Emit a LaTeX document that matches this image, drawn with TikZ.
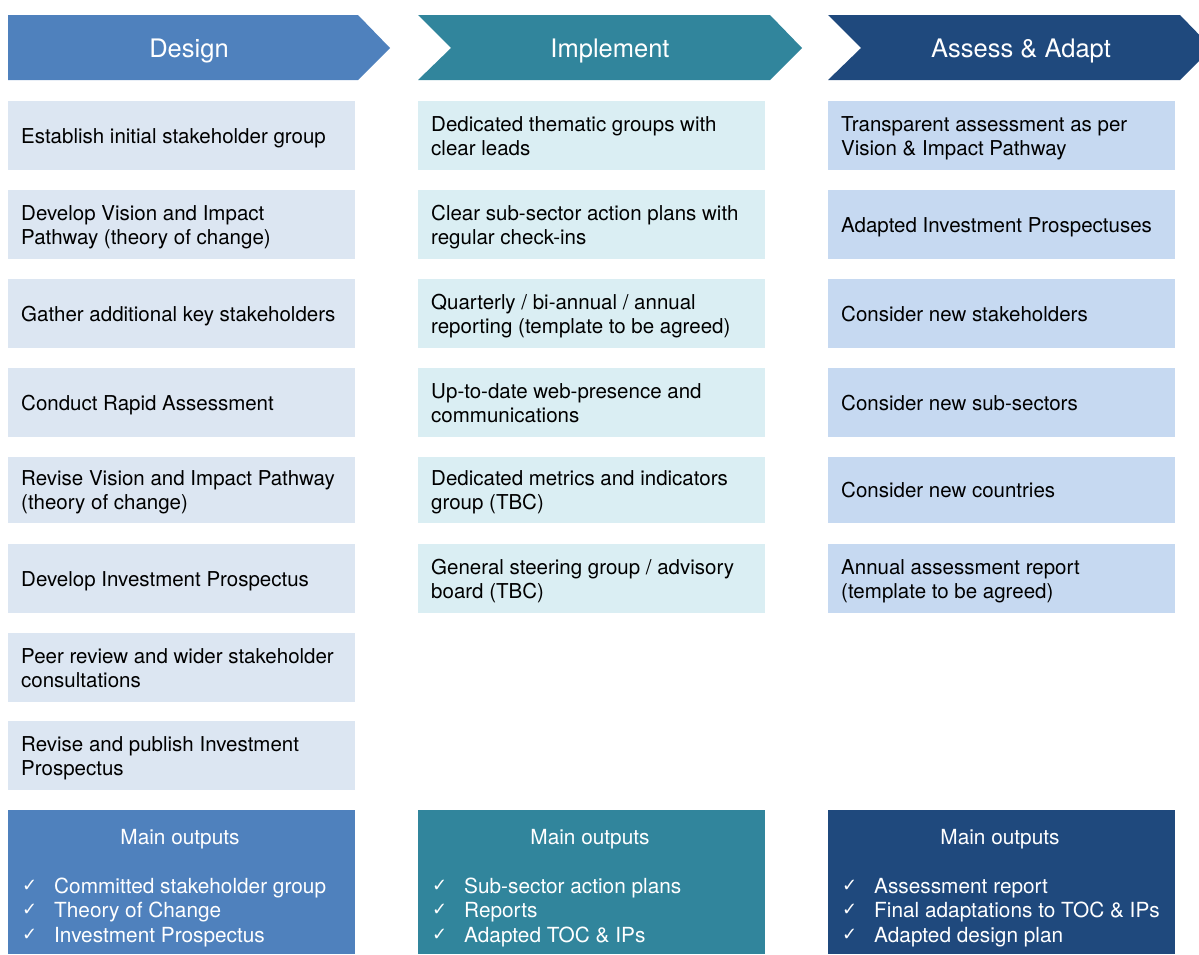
\documentclass[tikz,border=0pt]{standalone}
\usepackage{fontspec}
\setmainfont{TeX Gyre Heros}
\newfontfamily\symfont{DejaVu Sans}
\definecolor{dsg}{HTML}{4F81BD}
\definecolor{imp}{HTML}{31859C}
\definecolor{asa}{HTML}{1F497D}
\definecolor{dsglt}{HTML}{DCE6F2}
\definecolor{implt}{HTML}{DAEEF3}
\definecolor{asalt}{HTML}{C6D9F1}
\newcommand{\twolines}[2]{\parbox[t]{340pt}{\raggedright #1\\#2}}
\tikzset{
  stepbox/.style={anchor=north west, minimum width=347pt, inner sep=0pt},
  steptext/.style={anchor=base west, inner sep=0pt, text=black, font=\fontsize{20.5}{24}\selectfont},
  hdrtext/.style={anchor=base, inner sep=0pt, text=white, font=\fontsize{25.5}{30}\selectfont},
  outbox/.style={anchor=north west, minimum width=347pt, minimum height=144pt, inner sep=0pt},
  outtitle/.style={anchor=base, inner sep=0pt, text=white, font=\fontsize{20.8}{24}\selectfont},
  outitem/.style={anchor=base west, text=white, inner sep=0pt, font=\fontsize{20.8}{24}\selectfont},
  outcheck/.style={anchor=base west, text=white, inner sep=0pt, font=\symfont\fontsize{18}{20}\selectfont}
}
\begin{document}
\begin{tikzpicture}[x=1pt,y=-1pt]
\useasboundingbox (0,0) rectangle (1199,954);
\clip (0,0) rectangle (1199,954);
% headers
\fill[dsg] (8,15) -- (358,15) -- (390,48) -- (358,80) -- (8,80) -- cycle;
\fill[imp] (418,15) -- (770,15) -- (802,48) -- (770,80) -- (418,80) -- (451,48) -- cycle;
\fill[asa] (828,15) -- (1180,15) -- (1212,48) -- (1180,80) -- (828,80) -- (861,48) -- cycle;
\node[hdrtext] (hd) at (189,57) {Design};
\node[hdrtext] (hi) at (610,57) {Implement};
\node[hdrtext] (ha) at (1021,57) {Assess \& Adapt};
% boxes: Design
\node[stepbox, fill=dsglt, minimum height=69pt] (d1) at (8,101) {};
\node[stepbox, fill=dsglt, minimum height=69pt] (d2) at (8,190) {};
\node[stepbox, fill=dsglt, minimum height=69pt] (d3) at (8,279) {};
\node[stepbox, fill=dsglt, minimum height=69pt] (d4) at (8,368) {};
\node[stepbox, fill=dsglt, minimum height=66pt] (d5) at (8,457) {};
\node[stepbox, fill=dsglt, minimum height=69pt] (d6) at (8,544) {};
\node[stepbox, fill=dsglt, minimum height=69pt] (d7) at (8,633) {};
\node[stepbox, fill=dsglt, minimum height=69pt] (d8) at (8,721) {};
% boxes: Implement
\node[stepbox, fill=implt, minimum height=69pt] (i1) at (418,101) {};
\node[stepbox, fill=implt, minimum height=69pt] (i2) at (418,190) {};
\node[stepbox, fill=implt, minimum height=69pt] (i3) at (418,279) {};
\node[stepbox, fill=implt, minimum height=69pt] (i4) at (418,368) {};
\node[stepbox, fill=implt, minimum height=66pt] (i5) at (418,457) {};
\node[stepbox, fill=implt, minimum height=69pt] (i6) at (418,544) {};
% boxes: Assess
\node[stepbox, fill=asalt, minimum height=69pt] (a1) at (828,101) {};
\node[stepbox, fill=asalt, minimum height=69pt] (a2) at (828,190) {};
\node[stepbox, fill=asalt, minimum height=69pt] (a3) at (828,279) {};
\node[stepbox, fill=asalt, minimum height=69pt] (a4) at (828,368) {};
\node[stepbox, fill=asalt, minimum height=66pt] (a5) at (828,457) {};
\node[stepbox, fill=asalt, minimum height=69pt] (a6) at (828,544) {};
% texts: Design
\node[steptext] (d1t) at (21,143) {Establish initial stakeholder group};
\node[steptext] (d2t) at (21,220) {\twolines{Develop Vision and Impact}{Pathway (theory of change)}};
\node[steptext] (d3t) at (21,321) {Gather additional key stakeholders};
\node[steptext] (d4t) at (21,410) {Conduct Rapid Assessment};
\node[steptext] (d5t) at (21,485.5) {\twolines{Revise Vision and Impact Pathway}{(theory of change)}};
\node[steptext] (d6t) at (21,586) {Develop Investment Prospectus};
\node[steptext] (d7t) at (21,663) {\twolines{Peer review and wider stakeholder}{consultations}};
\node[steptext] (d8t) at (21,751) {\twolines{Revise and publish Investment}{Prospectus}};
% texts: Implement
\node[steptext] (i1t) at (431,131) {\twolines{Dedicated thematic groups with}{clear leads}};
\node[steptext] (i2t) at (431,220) {\twolines{Clear sub-sector action plans with}{regular check-ins}};
\node[steptext] (i3t) at (431,309) {\twolines{Quarterly / bi-annual / annual}{reporting (template to be agreed)}};
\node[steptext] (i4t) at (431,398) {\twolines{Up-to-date web-presence and}{communications}};
\node[steptext] (i5t) at (431,485.5) {\twolines{Dedicated metrics and indicators}{group (TBC)}};
\node[steptext] (i6t) at (431,574) {\twolines{General steering group / advisory}{board (TBC)}};
% texts: Assess
\node[steptext] (a1t) at (841,131) {\twolines{Transparent assessment as per}{Vision \& Impact Pathway}};
\node[steptext] (a2t) at (841,232) {Adapted Investment Prospectuses};
\node[steptext] (a3t) at (841,321) {Consider new stakeholders};
\node[steptext] (a4t) at (841,410) {Consider new sub-sectors};
\node[steptext] (a5t) at (841,497.5) {Consider new countries};
\node[steptext] (a6t) at (841,574) {\twolines{Annual assessment report}{(template to be agreed)}};
% Output boxes
\node[outbox, fill=dsg] (od) at (8,810) {};
\node[outbox, fill=imp] (oi) at (418,810) {};
\node[outbox, fill=asa] (oa) at (828,810) {};
\node[outtitle] (odt) at (180,844) {Main outputs};
\node[outtitle] (oit) at (590,844) {Main outputs};
\node[outtitle] (oat) at (1000,844) {Main outputs};
% Design outputs
\node[outcheck] (odc1) at (22,891) {✓};
\node[outcheck] (odc2) at (22,915) {✓};
\node[outcheck] (odc3) at (22,940) {✓};
\node[outitem] (odi1) at (54,893) {Committed stakeholder group};
\node[outitem] (odi2) at (54,917) {Theory of Change};
\node[outitem] (odi3) at (54,942) {Investment Prospectus};
% Implement outputs
\node[outcheck] (oic1) at (432,891) {✓};
\node[outcheck] (oic2) at (432,915) {✓};
\node[outcheck] (oic3) at (432,940) {✓};
\node[outitem] (oii1) at (464,893) {Sub-sector action plans};
\node[outitem] (oii2) at (464,917) {Reports};
\node[outitem] (oii3) at (464,942) {Adapted TOC \& IPs};
% Assess outputs
\node[outcheck] (oac1) at (842,891) {✓};
\node[outcheck] (oac2) at (842,915) {✓};
\node[outcheck] (oac3) at (842,940) {✓};
\node[outitem] (oai1) at (874,893) {Assessment report};
\node[outitem] (oai2) at (874,917) {Final adaptations to TOC \& IPs};
\node[outitem] (oai3) at (874,942) {Adapted design plan};
\end{tikzpicture}
\end{document}
